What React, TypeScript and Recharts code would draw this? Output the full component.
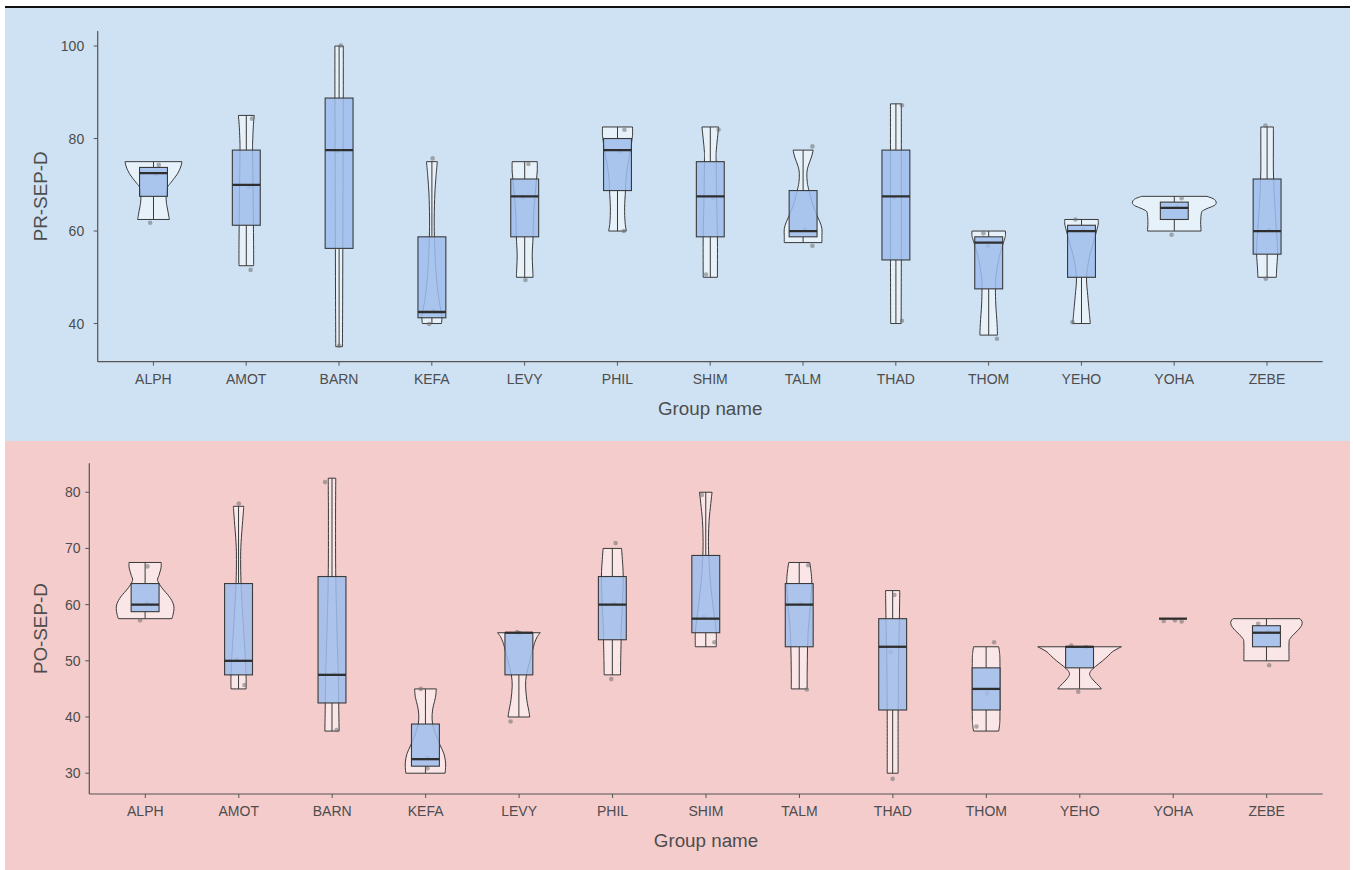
import React from 'react';
import { ComposedChart, Bar, XAxis, YAxis } from 'recharts';

// ---------- categories ----------
const GROUPS = ['ALPH', 'AMOT', 'BARN', 'KEFA', 'LEVY', 'PHIL', 'SHIM', 'TALM', 'THAD', 'THOM', 'YEHO', 'YOHA', 'ZEBE'];

// ---------- PR-SEP-D (top panel) ----------
const PR_DOMAIN: [number, number] = [31.75, 103.25];
const PR_TICKS = [40, 60, 80, 100];
const PR_LO = [62.5, 52.5, 35, 40, 50, 60, 50, 57.5, 40, 37.5, 40, 60, 50];
const PR_Q1 = [67.5, 61.25, 56.25, 41.25, 58.75, 68.75, 58.75, 58.75, 53.75, 47.5, 50, 62.5, 55];
const PR_MED = [72.5, 70, 77.5, 42.5, 67.5, 77.5, 67.5, 60, 67.5, 57.5, 60, 65, 60];
const PR_Q3 = [73.75, 77.5, 88.75, 58.75, 71.25, 80, 75, 68.75, 77.5, 58.75, 61.25, 66.25, 71.25];
const PR_HI = [75, 85, 100, 75, 75, 82.5, 82.5, 77.5, 87.5, 60, 62.5, 67.5, 82.5];
// violin density profile: [value, relative half-width]
const PR_VIOLIN: number[][][] = [
  [[75, 0.68], [74.5, 0.67], [73.6, 0.64], [72.5, 0.58], [71.7, 0.52], [70.3, 0.4], [69.6, 0.34], [68.5, 0.31], [67.5, 0.3], [66, 0.31], [65, 0.33], [63.5, 0.36], [62.5, 0.38]],
  [[85, 0.19], [83, 0.17], [80, 0.155], [77.5, 0.15], [70, 0.16], [61.25, 0.17], [56, 0.175], [52.5, 0.175]],
  [[100, 0.1], [90, 0.1], [77.5, 0.095], [60, 0.09], [45, 0.085], [35, 0.08]],
  [[75, 0.13], [72, 0.1], [68, 0.07], [63, 0.056], [58.75, 0.06], [52, 0.09], [47, 0.14], [44, 0.19], [42, 0.23], [41.25, 0.24], [40, 0.23]],
  [[75, 0.3], [73, 0.3], [71, 0.28], [67, 0.24], [63, 0.21], [58.75, 0.2], [55, 0.18], [52, 0.19], [50, 0.2]],
  [[82.5, 0.36], [81, 0.36], [80, 0.35], [77, 0.3], [74, 0.24], [71, 0.2], [68.75, 0.19], [65, 0.17], [62, 0.18], [60, 0.21]],
  [[82.5, 0.2], [80, 0.17], [77, 0.14], [75, 0.14], [67, 0.15], [58.75, 0.17], [50, 0.17]],
  [[77.5, 0.24], [76, 0.2], [74, 0.12], [72.5, 0.09], [70.5, 0.1], [68.75, 0.14], [66, 0.22], [64, 0.3], [62, 0.4], [60.5, 0.45], [59, 0.45], [57.5, 0.45]],
  [[87.5, 0.13], [80, 0.13], [67.5, 0.13], [55, 0.13], [40, 0.125]],
  [[60, 0.4], [59, 0.4], [58, 0.37], [56, 0.3], [53, 0.22], [50, 0.17], [47.5, 0.16], [44, 0.17], [40, 0.2], [37.5, 0.21]],
  [[62.5, 0.4], [61.5, 0.4], [60, 0.36], [57, 0.27], [54, 0.18], [50, 0.12], [46, 0.15], [43, 0.18], [40, 0.21]],
  [[67.5, 0.78], [67, 0.93], [66.5, 0.99], [66, 1.0], [65.5, 0.95], [65, 0.82], [64.5, 0.7], [64, 0.65], [62, 0.63], [60, 0.64]],
  [[82.5, 0.15], [78, 0.15], [73, 0.15], [68, 0.17], [63, 0.2], [58, 0.24], [55, 0.25], [52, 0.23], [50, 0.22]],
];
// jittered observations: [jitter (fraction of band), value]
const PR_POINTS: number[][][] = [
  [[-0.036, 61.8], [0.057, 74.3], [0.03, 72.3]],
  [[0.061, 84.3], [0.046, 51.6], [0.03, 69.6]],
  [[0.018, 100.1], [0, 35.2], [-0.02, 77.3]],
  [[0.008, 75.7], [-0.029, 39.9], [0.02, 42.7]],
  [[0.04, 74.5], [0.008, 49.4], [-0.02, 67.3]],
  [[0.075, 81.9], [0.068, 60.0], [0.02, 77.2]],
  [[0.089, 81.9], [-0.046, 50.6], [0.03, 67.2]],
  [[0.1, 78.3], [0.1, 56.8], [0.02, 60.3]],
  [[0.065, 87.2], [0.065, 40.6], [-0.02, 67.3]],
  [[-0.057, 59.5], [0.089, 36.7], [-0.007, 56.8]],
  [[-0.065, 62.5], [-0.097, 40.3], [0.02, 60.2]],
  [[0.079, 67.1], [-0.029, 59.2], [0.03, 65.2]],
  [[-0.018, 82.8], [-0.014, 49.7], [0.02, 60.2]],
];

// ---------- PO-SEP-D (bottom panel) ----------
const PO_DOMAIN: [number, number] = [26.3, 85.15];
const PO_TICKS = [30, 40, 50, 60, 70, 80];
const PO_LO = [57.5, 45, 37.5, 30, 40, 47.5, 52.5, 45, 30, 37.5, 45, 57.5, 50];
const PO_Q1 = [58.75, 47.5, 42.5, 31.25, 47.5, 53.75, 55, 52.5, 41.25, 41.25, 48.75, 57.5, 52.5];
const PO_MED = [60, 50, 47.5, 32.5, 55, 60, 57.5, 60, 52.5, 45, 52.5, 57.5, 55];
const PO_Q3 = [63.75, 63.75, 65, 38.75, 55, 65, 68.75, 63.75, 57.5, 48.75, 52.5, 57.5, 56.25];
const PO_HI = [67.5, 77.5, 82.5, 45, 55, 70, 80, 67.5, 62.5, 52.5, 52.5, 57.5, 57.5];
const PO_VIOLIN: number[][][] = [
  [[67.5, 0.385], [66.5, 0.38], [65.2, 0.33], [64.3, 0.3], [63, 0.4], [61.4, 0.58], [60.2, 0.67], [59.3, 0.69], [58.3, 0.67], [57.5, 0.64]],
  [[77.5, 0.125], [75, 0.1], [71, 0.06], [68, 0.05], [63.75, 0.06], [58, 0.1], [52, 0.15], [47.5, 0.18], [45, 0.18]],
  [[82.5, 0.09], [75, 0.085], [65, 0.09], [55, 0.12], [47.5, 0.15], [42.5, 0.16], [37.5, 0.17]],
  [[45, 0.26], [43.5, 0.24], [42, 0.19], [40.5, 0.16], [38.75, 0.17], [37, 0.24], [35, 0.35], [33.5, 0.44], [32, 0.48], [31, 0.48], [30, 0.47]],
  [[55, 0.51], [54.3, 0.44], [53.3, 0.38], [52, 0.33], [50, 0.26], [47.5, 0.18], [45.5, 0.16], [43, 0.19], [41, 0.24], [40, 0.26]],
  [[70, 0.22], [68, 0.24], [65, 0.26], [60, 0.24], [55, 0.21], [53.75, 0.21], [50, 0.2], [47.5, 0.195]],
  [[80, 0.15], [78, 0.12], [75, 0.08], [72, 0.065], [68.75, 0.07], [64, 0.11], [60, 0.17], [57, 0.22], [55, 0.25], [52.5, 0.25]],
  [[67.5, 0.25], [66, 0.28], [63.75, 0.3], [60, 0.27], [56, 0.22], [52.5, 0.2], [48, 0.19], [45, 0.19]],
  [[62.5, 0.17], [57.5, 0.16], [50, 0.14], [40, 0.13], [30, 0.13]],
  [[52.5, 0.3], [51.5, 0.32], [50, 0.33], [45, 0.33], [40, 0.33], [38.5, 0.32], [37.5, 0.3]],
  [[52.5, 1.0], [52.2, 0.92], [51.6, 0.78], [51, 0.7], [50, 0.55], [49, 0.38], [48.3, 0.28], [47.6, 0.24], [46.8, 0.3], [46, 0.4], [45.4, 0.48], [45, 0.52]],
  [],
  [[57.5, 0.8], [57, 0.85], [56.3, 0.84], [55.5, 0.76], [54.7, 0.65], [54, 0.57], [53.3, 0.54], [50, 0.54]],
];
const PO_POINTS: number[][][] = [
  [[0.025, 66.8], [-0.054, 57.2], [0.02, 60.2]],
  [[0.003, 78.0], [0.064, 45.7], [-0.02, 50.2]],
  [[-0.075, 81.8], [0.05, 37.7], [0.02, 47.7]],
  [[-0.05, 45.0], [0.021, 30.9], [0.02, 32.7]],
  [[-0.089, 39.2], [-0.018, 55.1], [0.01, 54.9]],
  [[0.036, 70.95], [-0.011, 46.75], [0.02, 60.2]],
  [[-0.043, 79.5], [0.093, 53.3], [-0.02, 57.8]],
  [[0.096, 67.0], [0.082, 44.9], [0.02, 60.2]],
  [[0.018, 61.7], [0, 29.0], [-0.02, 51.6]],
  [[0.086, 53.3], [-0.104, 38.3], [0.011, 44.2]],
  [[-0.089, 52.7], [-0.014, 44.5], [0.07, 52.4]],
  [[-0.1, 57.1], [0.021, 57.2], [0.093, 57.0]],
  [[-0.089, 56.6], [0.029, 49.2], [0.02, 55.2]],
];

type Row = {
  name: string; lo: number; q1: number; med: number; q3: number; hi: number;
  violin: number[][]; pts: number[][];
};

const buildRows = (lo: number[], q1: number[], med: number[], q3: number[], hi: number[], violin: number[][][], pts: number[][][]): Row[] =>
  GROUPS.map((name, i) => ({ name, lo: lo[i], q1: q1[i], med: med[i], q3: q3[i], hi: hi[i], violin: violin[i], pts: pts[i] }));

const PR_ROWS = buildRows(PR_LO, PR_Q1, PR_MED, PR_Q3, PR_HI, PR_VIOLIN, PR_POINTS);
const PO_ROWS = buildRows(PO_LO, PO_Q1, PO_MED, PO_Q3, PO_HI, PO_VIOLIN, PO_POINTS);

// smooth curve through points (Catmull-Rom -> cubic Bezier)
const curveThrough = (p: number[][]): string => {
  let s = '';
  for (let i = 0; i < p.length - 1; i++) {
    const p0 = p[Math.max(0, i - 1)];
    const p1 = p[i];
    const p2 = p[i + 1];
    const p3 = p[Math.min(p.length - 1, i + 2)];
    const c1x = p1[0] + (p2[0] - p0[0]) / 6;
    const c1y = p1[1] + (p2[1] - p0[1]) / 6;
    const c2x = p2[0] - (p3[0] - p1[0]) / 6;
    const c2y = p2[1] - (p3[1] - p1[1]) / 6;
    s += ` C${c1x},${c1y} ${c2x},${c2y} ${p2[0]},${p2[1]}`;
  }
  return s;
};

const OUTLINE = '#3a3a3a';

const makeShape = (yMin: number) => (props: any) => {
  const { x, y, width, height, payload } = props;
  const r = payload as Row;
  if (!r || !isFinite(height)) return null;
  // the bar spans [yMin, hi]; map values linearly inside the library's scaled range
  const k = height / (r.hi - yMin);
  const py = (v: number) => y + (r.hi - v) * k;
  const cx = x + width / 2;
  const vw = width * 0.45;
  const bw = width * 0.15;

  let violinPath = '';
  if (r.violin.length > 1) {
    const right = r.violin.map(([v, d]) => [cx + d * vw, py(v)]);
    const left = r.violin.map(([v, d]) => [cx - d * vw, py(v)]).reverse();
    violinPath = `M${right[0][0]},${right[0][1]}` + curveThrough(right) +
      ` L${left[0][0]},${left[0][1]}` + curveThrough(left) + ' Z';
  }
  const yq1 = py(r.q1);
  const yq3 = py(r.q3);
  return (
    <g>
      {violinPath && (
        <path d={violinPath} fill="#ffffff" fillOpacity={0.5} stroke={OUTLINE} strokeWidth={1} strokeLinejoin="round" />
      )}
      {r.hi > r.q3 && <line x1={cx} x2={cx} y1={py(r.hi)} y2={yq3} stroke={OUTLINE} strokeWidth={1} />}
      {r.q1 > r.lo && <line x1={cx} x2={cx} y1={yq1} y2={py(r.lo)} stroke={OUTLINE} strokeWidth={1} />}
      {r.pts.map(([dx, v], i) => (
        <circle key={i} cx={cx + dx * width} cy={py(v)} r={2.3} fill="#6f6f6f" fillOpacity={0.55} />
      ))}
      <rect x={cx - bw} y={yq3} width={2 * bw} height={Math.max(0, yq1 - yq3)} fill="#9EBDEC" fillOpacity={0.85} stroke={OUTLINE} strokeWidth={1.1} />
      <line x1={cx - bw} x2={cx + bw} y1={py(r.med)} y2={py(r.med)} stroke="#2e2e2e" strokeWidth={2.3} />
    </g>
  );
};

const TICK = { fontSize: 14, fill: '#4d4d4d' };
const TITLE = { fontSize: 18.8, fill: '#4d4d4d' };
const AXIS_LINE = { stroke: '#555555', strokeWidth: 1.2 };

type PanelProps = {
  rows: Row[]; domain: [number, number]; ticks: number[]; yTitle: string;
  height: number; marginTop: number; yAxisWidth: number; xAxisHeight: number;
  xTitleOffset: number; yTitleOffset: number; yTickMargin: number;
};

const Panel = (p: PanelProps) => (
  <ComposedChart
    width={1345}
    height={p.height}
    data={p.rows}
    margin={{ top: p.marginTop, right: 27.3, bottom: 0, left: 0 }}
    barCategoryGap={0}
    barGap={0}
  >
    <XAxis
      dataKey="name"
      type="category"
      interval={0}
      padding={{ left: 9.3, right: 9.3 }}
      height={p.xAxisHeight}
      tick={TICK}
      tickSize={4}
      tickMargin={8}
      axisLine={AXIS_LINE}
      tickLine={{ stroke: '#555555' }}
      label={{ value: 'Group name', position: 'insideBottom', offset: p.xTitleOffset, style: TITLE }}
    />
    <YAxis
      type="number"
      domain={p.domain}
      ticks={p.ticks}
      allowDataOverflow
      width={p.yAxisWidth}
      tick={TICK}
      tickSize={4}
      tickMargin={p.yTickMargin}
      axisLine={AXIS_LINE}
      tickLine={{ stroke: '#555555' }}
      label={{ value: p.yTitle, angle: -90, position: 'insideLeft', offset: p.yTitleOffset, style: { ...TITLE, textAnchor: 'middle' } }}
    />
    <Bar
      dataKey={(d: Row) => [p.domain[0], d.hi]}
      shape={makeShape(p.domain[0])}
      isAnimationActive={false}
    />
  </ComposedChart>
);

export default function App() {
  return (
    <div style={{ position: 'absolute', left: 0, top: 0, width: 1353, height: 870, background: '#ffffff', fontFamily: '"Liberation Sans", Arial, sans-serif', overflow: 'hidden' }}>
      <div style={{ position: 'absolute', left: 5, top: 6, width: 1345, height: 2, background: '#111111' }} />
      <div style={{ position: 'absolute', left: 5, top: 8, width: 1345, height: 433, background: '#CFE2F3' }}>
        <Panel rows={PR_ROWS} domain={PR_DOMAIN} ticks={PR_TICKS} yTitle="PR-SEP-D"
          height={433} marginTop={23} yAxisWidth={92.7} xAxisHeight={79.3}
          xTitleOffset={26} yTitleOffset={35} yTickMargin={9.5} />
      </div>
      <div style={{ position: 'absolute', left: 5, top: 441, width: 1345, height: 429, background: '#F4CCCC' }}>
        <Panel rows={PO_ROWS} domain={PO_DOMAIN} ticks={PO_TICKS} yTitle="PO-SEP-D"
          height={429} marginTop={22.3} yAxisWidth={84.3} xAxisHeight={76}
          xTitleOffset={23.3} yTitleOffset={35.8} yTickMargin={4.8} />
      </div>
    </div>
  );
}
